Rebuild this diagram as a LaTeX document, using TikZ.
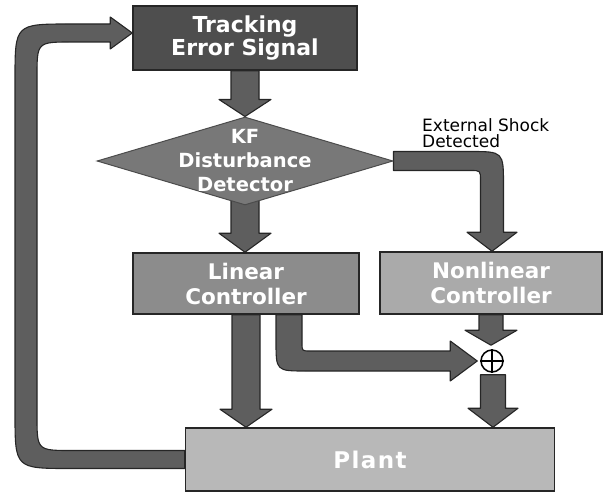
\documentclass[tikz,border=0pt]{standalone}
\usepackage{fontspec}
\setmainfont{DejaVu Sans}
\usetikzlibrary{shapes.geometric,calc,backgrounds}
\definecolor{tesfill}{HTML}{4E4E4E}
\definecolor{kffill}{HTML}{787878}
\definecolor{linfill}{HTML}{8C8C8C}
\definecolor{nlfill}{HTML}{AAAAAA}
\definecolor{plantfill}{HTML}{B8B8B8}
\definecolor{arrowfill}{HTML}{5E5E5E}
\newcommand\blockdown[5]{%
  \filldraw[blk] let \p1=(#1), \p2=(#2) in
  (\x1-#3,\y1) -- (\x1-#3,\y2+#5) -- (\x1-#4,\y2+#5) -- (\x1,\y2)
  -- (\x1+#4,\y2+#5) -- (\x1+#3,\y2+#5) -- (\x1+#3,\y1) -- cycle;}
\begin{document}
\begin{tikzpicture}[x=1pt,y=-1pt,
  boxst/.style={rectangle, draw=black!85, line width=1.5pt, text=white,
    font=\bfseries\fontsize{21.5}{25}\selectfont, align=center, inner sep=0pt},
  lblst/.style={text=white, font=\bfseries\fontsize{19.5}{24}\selectfont, align=center, inner sep=0pt},
  blk/.style={fill=arrowfill, draw=black!85, line width=1.1pt, line join=round}]
\useasboundingbox (0,0) rectangle (608,492);

\node[boxst, fill=tesfill, minimum width=224pt, minimum height=64pt, font=\bfseries\fontsize{22}{23}\selectfont] (tes) at (245,38) {Tracking\\Error Signal};
\node[diamond, fill=kffill, draw=black!70, line width=1pt, minimum width=296pt, minimum height=88pt,
  inner sep=0pt, label={[lblst]center:KF\\Disturbance\\Detector}] (kf) at (245,161) {};
\node[boxst, fill=linfill, minimum width=226pt, minimum height=61pt] (lin) at (246,283.5) {Linear\\Controller};
\node[boxst, fill=nlfill, minimum width=222pt, minimum height=62pt] (nl) at (491,283) {Nonlinear\\Controller};
\node[boxst, fill=plantfill, minimum width=369pt, minimum height=63pt, font=\bfseries\fontsize{23}{25}\selectfont\addfontfeature{LetterSpace=6}] (plant) at (370,459.5) {Plant};
\node[circle, draw=black, line width=1.5pt, minimum size=22pt, inner sep=0pt] (sum) at (492,361) {};
\draw[line width=1.5pt] (sum.north) -- (sum.south) (sum.west) -- (sum.east);
\node[anchor=north west, align=left, font=\fontsize{17}{16.5}\selectfont, inner sep=0pt] (shocklbl) at (422,118) {External Shock\\Detected};

\coordinate (linout) at ($(lin.south)+(43,0)$);
\coordinate (fbx) at (26,0);

\begin{scope}[on background layer]
\blockdown{tes.south}{kf.north}{14pt}{26pt}{17pt}
\blockdown{$(kf.south)+(0,-8)$}{lin.north}{14pt}{26pt}{19pt}
\blockdown{lin.south}{plant.north}{14pt}{26pt}{18pt}
\blockdown{nl.south}{$(sum.north)+(0,-4)$}{12pt}{26pt}{15pt}
\blockdown{$(sum.south)+(1,2)$}{plant.north}{12.5pt}{25pt}{19pt}

% external shock
\filldraw[blk] let \p1=(kf.east), \p2=($(nl.north)+(1,0)$) in
  (\x1,\y1+9.5pt) -- (\x2+11.5pt-34pt,\y1+9.5pt)
  .. controls (\x2+11.5pt,\y1+9.5pt) .. (\x2+11.5pt,\y1+9.5pt-34pt)
  -- (\x2+11.5pt,\y2+19pt) -- (\x2+25pt,\y2+19pt) -- (\x2,\y2) -- (\x2-25pt,\y2+19pt)
  -- (\x2-11.5pt,\y2+19pt) -- (\x2-11.5pt,\y1-9.5pt-10pt)
  .. controls (\x2-11.5pt,\y1-9.5pt) .. (\x2-11.5pt-10pt,\y1-9.5pt)
  -- (\x1,\y1-9.5pt) -- cycle;

% linear -> sum
\filldraw[blk] let \p1=(linout), \p2=($(sum.west)+(-3,0)$) in
  (\x1-13pt,\y1) -- (\x1-13pt,\y2-10pt+30pt)
  .. controls (\x1-13pt,\y2-10pt) .. (\x1-13pt+30pt,\y2-10pt)
  -- (\x2-27pt,\y2-10pt) -- (\x2-27pt,\y2-20pt) -- (\x2,\y2) -- (\x2-27pt,\y2+20pt)
  -- (\x2-27pt,\y2+10pt) -- (\x1+13pt+8pt,\y2+10pt)
  .. controls (\x1+13pt,\y2+10pt) .. (\x1+13pt,\y2+10pt+8pt)
  -- (\x1+13pt,\y1) -- cycle;

% feedback
\filldraw[blk] let \p1=(plant.west), \p2=($(tes.west)+(0,-5)$), \p3=(fbx) in
  (\x1,\y1+9pt) -- (\x3+11pt+35pt,\y1+9pt)
  .. controls (\x3+11pt,\y1+9pt) .. (\x3+11pt,\y1+9pt+35pt)
  -- (\x3+11pt,\y2-9pt-35pt)
  .. controls (\x3+11pt,\y2-9pt) .. (\x3+11pt+35pt,\y2-9pt)
  -- (\x2-22pt,\y2-9pt) -- (\x2-22pt,\y2-16pt) -- (\x2,\y2) -- (\x2-22pt,\y2+16pt)
  -- (\x2-22pt,\y2+9pt) -- (\x3-11pt+55pt,\y2+9pt)
  .. controls (\x3-11pt,\y2+9pt) .. (\x3-11pt,\y2+9pt-55pt)
  -- (\x3-11pt,\y1-9pt+55pt)
  .. controls (\x3-11pt,\y1-9pt) .. (\x3-11pt+55pt,\y1-9pt)
  -- (\x1,\y1-9pt) -- cycle;
\end{scope}
\end{tikzpicture}
\end{document}
